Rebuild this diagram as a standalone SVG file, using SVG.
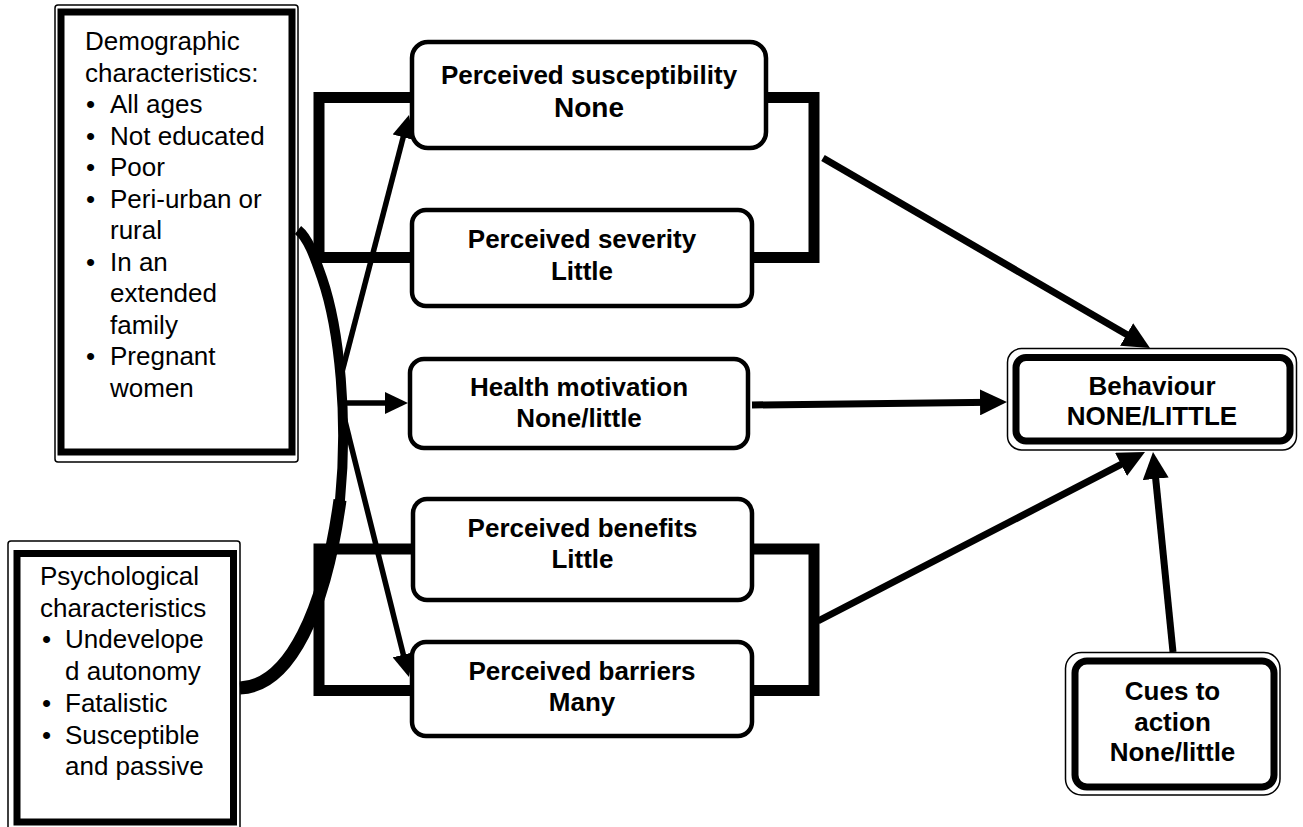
<svg xmlns="http://www.w3.org/2000/svg" width="1303" height="827" viewBox="0 0 1303 827">
<style>
text{font-family:"Liberation Sans",Arial,sans-serif;fill:#000}
.reg{font-size:26px}
.b{font-size:26px;font-weight:bold;text-anchor:middle}
.box{fill:#fff;stroke:#000;stroke-width:4.5}
.thin{fill:none;stroke:#000;stroke-width:1.5}
.thick{fill:#fff;stroke:#000;stroke-width:7}
.brk{fill:none;stroke:#000;stroke-width:11}
.ar{fill:none;stroke:#000;stroke-width:5.5}
.arT{fill:none;stroke:#000;stroke-width:7}
.crv{fill:none;stroke:#000}
</style>
<defs>
<marker id="hs" markerUnits="userSpaceOnUse" markerWidth="23" markerHeight="22" refX="10" refY="11" orient="auto"><path d="M0,0 L23,11 L0,22 z" fill="#000"/></marker>
<marker id="hl" markerUnits="userSpaceOnUse" markerWidth="27" markerHeight="26" refX="12" refY="13" orient="auto"><path d="M0,0 L27,13 L0,26 z" fill="#000"/></marker>
</defs>
<rect width="1303" height="827" fill="#fff"/>
<g id="connectors">
<rect class="brk" x="319" y="97.5" width="495" height="160"/>
<rect class="brk" x="319" y="549" width="495" height="141.5"/>
<path class="crv" stroke-width="10" d="M 240 688 C 290 686, 325 610, 340 500 C 348 420, 340 330, 322 278 C 314 255, 308 238, 298 230"/>
<path class="crv" stroke-width="13" d="M 240 688 C 290 686, 325 610, 340 500"/>
<line class="ar" x1="342" y1="372" x2="405.7" y2="127.6" marker-end="url(#hs)"/>
<line class="ar" x1="345" y1="403" x2="395" y2="403" marker-end="url(#hs)"/>
<line class="ar" x1="343" y1="413" x2="405.8" y2="664.4" marker-end="url(#hs)"/>
<line class="arT" x1="823" y1="158" x2="1137" y2="340.5" marker-end="url(#hl)"/>
<line class="arT" x1="752" y1="405" x2="992" y2="402.2" marker-end="url(#hl)"/>
<line class="arT" x1="818" y1="621" x2="1131.7" y2="458.9" marker-end="url(#hl)"/>
<line class="arT" x1="1173" y1="652" x2="1154.5" y2="466.9" marker-end="url(#hl)"/>
</g>
<g id="demographic">
<rect class="thin" x="55" y="5" width="243" height="457" rx="3"/>
<rect class="thick" x="61" y="12" width="231" height="440"/>
<text class="reg" x="85" y="50">Demographic</text>
<text class="reg" x="85" y="81.5">characteristics:</text>
<text class="reg" x="86" y="113">•</text><text class="reg" x="110" y="113">All ages</text>
<text class="reg" x="86" y="144.5">•</text><text class="reg" x="110" y="144.5">Not educated</text>
<text class="reg" x="86" y="176">•</text><text class="reg" x="110" y="176">Poor</text>
<text class="reg" x="86" y="207.5">•</text><text class="reg" x="110" y="207.5">Peri-urban or</text>
<text class="reg" x="110" y="239">rural</text>
<text class="reg" x="86" y="270.5">•</text><text class="reg" x="110" y="270.5">In an</text>
<text class="reg" x="110" y="302">extended</text>
<text class="reg" x="110" y="333.5">family</text>
<text class="reg" x="86" y="365">•</text><text class="reg" x="110" y="365">Pregnant</text>
<text class="reg" x="110" y="396.5">women</text>
</g>
<g id="psychological">
<rect class="thin" x="8" y="541" width="232" height="295" rx="3"/>
<rect class="thick" x="17" y="553.5" width="216.5" height="268.5"/>
<text class="reg" x="40" y="585">Psychological</text>
<text class="reg" x="40" y="616.5">characteristics</text>
<text class="reg" x="42" y="648">•</text><text class="reg" x="65" y="648">Undevelope</text>
<text class="reg" x="65" y="680">d autonomy</text>
<text class="reg" x="42" y="712">•</text><text class="reg" x="65" y="712">Fatalistic</text>
<text class="reg" x="42" y="743.5">•</text><text class="reg" x="65" y="743.5">Susceptible</text>
<text class="reg" x="65" y="775">and passive</text>
</g>
<g id="susceptibility">
<rect class="box" x="412" y="42" width="354" height="106" rx="16"/>
<text class="b" x="589" y="84">Perceived susceptibility</text>
<text class="b" x="589" y="117" style="font-size:28px">None</text>
</g>
<g id="severity">
<rect class="box" x="412" y="210" width="340" height="96" rx="14"/>
<text class="b" x="582" y="248">Perceived severity</text>
<text class="b" x="582" y="280">Little</text>
</g>
<g id="motivation">
<rect class="box" x="410" y="359" width="338" height="89" rx="14"/>
<text class="b" x="579" y="396">Health motivation</text>
<text class="b" x="579" y="427">None/little</text>
</g>
<g id="benefits">
<rect class="box" x="413" y="499" width="339" height="101" rx="14"/>
<text class="b" x="582.5" y="537">Perceived benefits</text>
<text class="b" x="582.5" y="568">Little</text>
</g>
<g id="barriers">
<rect class="box" x="412" y="642" width="340" height="94" rx="14"/>
<text class="b" x="582" y="680">Perceived barriers</text>
<text class="b" x="582" y="711">Many</text>
</g>
<g id="behaviour">
<rect class="thin" x="1007.5" y="348.5" width="289" height="101.5" rx="14"/>
<rect class="thick" x="1016" y="357.5" width="274" height="83.5" rx="10"/>
<text class="b" x="1152" y="395">Behaviour</text>
<text class="b" x="1152" y="425">NONE/LITTLE</text>
</g>
<g id="cues">
<rect class="thin" x="1065.5" y="652.5" width="214.5" height="142.5" rx="16"/>
<rect class="thick" x="1075" y="661" width="199" height="126" rx="12"/>
<text class="b" x="1172.5" y="700">Cues to</text>
<text class="b" x="1172.5" y="731">action</text>
<text class="b" x="1172.5" y="761">None/little</text>
</g>
</svg>
